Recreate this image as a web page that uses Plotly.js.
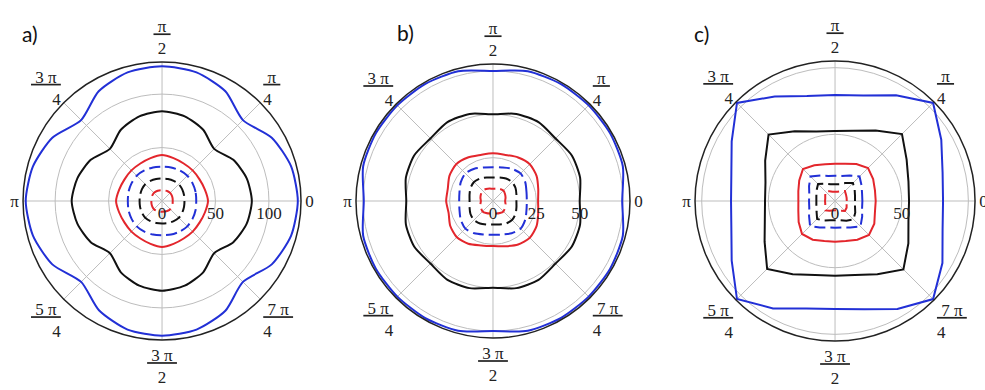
<!DOCTYPE html>
<html>
<head>
<meta charset="utf-8">
<script src="https://cdn.plot.ly/plotly-3.0.1.min.js"></script>
<style>
  body { margin: 0; background: #fff; }
  #chart { width: 985px; height: 390px; }
</style>
</head>
<body>
<div id="chart"></div>
<script>
// angles in degrees, 15 degree steps, closed
let theta = [0,15,30,45,60,75,90,105,120,135,150,165,180,195,210,225,240,255,270,285,300,315,330,345,360];

// angular tick labels
let angVals = [0,45,90,135,180,225,270,315];
let angText = ['0', '<u>\u00a0π\u00a0</u><br>4', '<u>\u00a0π\u00a0</u><br>2', '<u>\u00a03 π\u00a0</u><br>4',
  'π', '<u>\u00a05 π\u00a0</u><br>4', '<u>\u00a03 π\u00a0</u><br>2', '<u>\u00a07 π\u00a0</u><br>4'];

// a)
let blueSolidA  = [127,125,118.5,107,118.5,124.5,126,124.5,118.5,107,118.5,125,127.5,125,118.5,107,118,124.5,126,124.5,118.5,107,118.5,125,127];
let blackSolidA = [84,82,77,69,77,82,84,82,77,69,77,82,84.5,82,77,69,77,82,84,82,77,69,77,82,84];
let redSolidA   = [43,41.5,40.5,40.5,40.5,41.5,43,41.5,40.5,40.5,40.5,41.5,43,41.5,40.5,40.5,40.5,41.5,43,41.5,40.5,40.5,40.5,41.5,43];
let blueDashA   = [32,32.5,33,33.5,33,32.5,32,32.5,33,33.5,33,32.5,32,32.5,33,33.5,33,32.5,32,32.5,33,33.5,33,32.5,32];
let blackDashA  = [21,21.3,21.8,22.2,21.8,21.3,21,21.3,21.8,22.2,21.8,21.3,21,21.3,21.8,22.2,21.8,21.3,21,21.3,21.8,22.2,21.8,21.3,21];
let redDashA    = [10,10.2,10.5,10.8,10.5,10.2,10,10.2,10.5,10.8,10.5,10.2,10,10.2,10.5,10.8,10.5,10.2,10,10.2,10.5,10.8,10.5,10.2,10];
let radValsA = [0,50,100];
let radTextA = ['0','50','100'];

// b)
let blueSolidB  = [74.5,77.5,78,78,78,77.5,75,77.5,78,78,78,77.5,74.5,77.5,78,78,78,77.5,75,77.5,78,78,78,77.5,74.5];
let blackSolidB = [50,52,52.5,51,52.5,52,50,52,52.5,51,52.5,52,50,52,52.5,51,52.5,52,50,52,52.5,51,52.5,52,50];
let redSolidB   = [26,27,29,30,29,27.5,27.5,27.5,29,30,29,27,27,26.5,28.5,29.5,28.5,26.5,26,27,29,30,29,27,26];
let blueDashB   = [19.5,20,21.5,22.5,21.5,20,19.5,20,21.5,22.5,21.5,20,19.5,20,21.5,22.5,21.5,20,19.5,20,21.5,22.5,21.5,20,19.5];
let blackDashB  = [13.5,14,15,15.5,15,14,13.5,14,15,15.5,15,14,13.5,14,15,15.5,15,14,13.5,14,15,15.5,15,14,13.5];
let redDashB    = [7,7.5,8,8.5,8,7.5,7,7.5,8,8.5,8,7.5,7,7.5,8,8.5,8,7.5,7,7.5,8,8.5,8,7.5,7];
let radValsB = [0,25,50,75];
let radTextB = ['0','25','50',''];

// c)
let blueSolidC  = [81,83.5,92,104,91.5,82,79.5,81.5,90.5,104,89.5,80.5,78,80.5,89.5,104,93,83.5,81,84,93.5,104,93,83.5,81];
let blackSolidC = [55.5,57,62,71,61,54.5,52.5,54,60.5,70.5,60.5,54,52.5,54.5,61,72,63.5,57.5,56,57.5,63.5,72.5,63.5,57,55.5];
let redSolidC   = [30.5,31,33,35,32,29,28,28.5,31,34,31,28.5,27.5,28.5,31.5,35,33.5,31,30.5,31,33.5,36,34,31,30.5];
let blueDashC   = [20.5,21,23,26,22,19.5,19,19.5,22,26,22.5,20,19.5,20,22.5,26.5,23,20.5,20,20.5,23,27,23.5,21,20.5];
let blackDashC  = [15,15.5,17,19,15.5,13,12.5,13,15,18,16,14.5,14,14.5,16,19,17,15,14.5,15,17,19.5,17.5,15.5,15];
let redDashC    = [8.8,9,9.5,10.5,8.5,7.2,7,7.2,8.5,10,8.5,7.6,7.5,7.6,8.5,10,8.5,7.3,7,7.3,8.5,10.5,10,9,8.8];
let radValsC = [0,50,100];
let radTextC = ['0','50',''];

let BLUE = '#2230d6';
let RED = '#e3262c';
let BLACK = '#111111';

function curve(r, color, dashed, sub, shape){
  return {
    type: 'scatterpolar',
    r: r,
    theta: theta,
    mode: 'lines',
    subplot: sub,
    hoverinfo: 'skip',
    line: {color: color, width: 2, dash: dashed ? '11px,5px' : 'solid', shape: shape, smoothing: 0.7}
  };
}

let data = [
  curve(blueSolidA, BLUE, false, 'polar', 'spline'),
  curve(blackSolidA, BLACK, false, 'polar', 'spline'),
  curve(redSolidA, RED, false, 'polar', 'spline'),
  curve(blueDashA, BLUE, true, 'polar', 'spline'),
  curve(blackDashA, BLACK, true, 'polar', 'spline'),
  curve(redDashA, RED, true, 'polar', 'spline'),
  curve(blueSolidB, BLUE, false, 'polar2', 'spline'),
  curve(blackSolidB, BLACK, false, 'polar2', 'spline'),
  curve(redSolidB, RED, false, 'polar2', 'spline'),
  curve(blueDashB, BLUE, true, 'polar2', 'spline'),
  curve(blackDashB, BLACK, true, 'polar2', 'spline'),
  curve(redDashB, RED, true, 'polar2', 'spline'),
  curve(blueSolidC, BLUE, false, 'polar3', 'linear'),
  curve(blackSolidC, BLACK, false, 'polar3', 'linear'),
  curve(redSolidC, RED, false, 'polar3', 'linear'),
  curve(blueDashC, BLUE, true, 'polar3', 'linear'),
  curve(blackDashC, BLACK, true, 'polar3', 'linear'),
  curve(redDashC, RED, true, 'polar3', 'linear')
];

let angFont = {family: 'Liberation Serif', size: 17, color: '#222'};
let radFont = {family: 'Liberation Serif', size: 17, color: '#222'};

function polarAxes(xdom, ydom, maxR, radVals, radText){
  return {
    domain: {x: xdom, y: ydom},
    bgcolor: '#fff',
    radialaxis: {
      range: [0, maxR],
      angle: 0,
      side: 'clockwise',
      tickmode: 'array',
      tickvals: radVals,
      ticktext: radText,
      ticks: '',
      showline: false,
      gridcolor: '#bdbdbd',
      gridwidth: 1,
      tickfont: radFont
    },
    angularaxis: {
      thetaunit: 'degrees',
      direction: 'counterclockwise',
      rotation: 0,
      tickmode: 'array',
      tickvals: angVals,
      ticktext: angText,
      ticks: '',
      showline: true,
      linecolor: '#222',
      linewidth: 1.5,
      gridcolor: '#bdbdbd',
      gridwidth: 1,
      tickfont: angFont
    }
  };
}

let panelFont = {family: 'Lato', size: 21, color: '#111'};

let layout = {
  width: 985,
  height: 390,
  margin: {l: 0, r: 0, t: 0, b: 0},
  paper_bgcolor: '#fff',
  font: {family: 'Liberation Serif', size: 16, color: '#222'},
  showlegend: false,
  polar: polarAxes([0.0234, 0.3056], [0.1282, 0.8410], 130, radValsA, radTextA),
  polar2: polarAxes([0.3614, 0.6396], [0.1333, 0.8359], 79, radValsB, radTextB),
  polar3: polarAxes([0.7056, 0.9899], [0.1256, 0.8436], 105, radValsC, radTextC),
  annotations: [
    {text: 'a)', x: 20/985, y: 1 - 19/390, xref: 'paper', yref: 'paper', showarrow: false, font: panelFont},
    {text: 'b)', x: 405/985, y: 1 - 18/390, xref: 'paper', yref: 'paper', showarrow: false, font: panelFont},
    {text: 'c)', x: 711/985, y: 1 - 19/390, xref: 'paper', yref: 'paper', showarrow: false, font: panelFont}
  ]
};

Plotly.newPlot('chart', data, layout, {staticPlot: true});
</script>
</body>
</html>
